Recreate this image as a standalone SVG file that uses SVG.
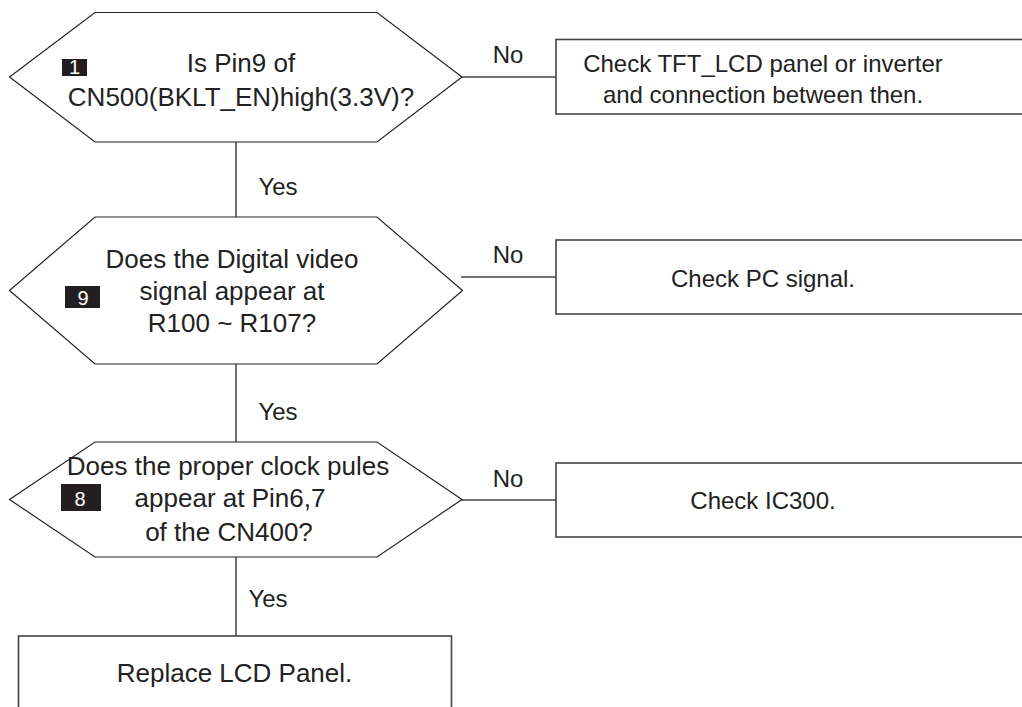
<svg xmlns="http://www.w3.org/2000/svg" width="1022" height="707" viewBox="0 0 1022 707">
<style>
.hex{fill:#fff;stroke:#222;stroke-width:1.2}
.box{fill:#fff;stroke:#444;stroke-width:1.6}
.ln{stroke:#444;stroke-width:1.5;fill:none}
.t{font-family:"Liberation Sans",Arial,sans-serif;fill:#222;text-anchor:middle}
.q{font-size:26px}
.b{font-size:24px}
.lbl{font-size:24px}
.badge{fill:#231f20}
.bn{font-family:"Liberation Sans",Arial,sans-serif;fill:#fff;font-size:20px;text-anchor:middle}
</style>
<rect width="1022" height="707" fill="#fff"/>
<g id="connectors">
<line class="ln" x1="236" y1="142" x2="236" y2="217"/>
<line class="ln" x1="236" y1="364" x2="236" y2="442"/>
<line class="ln" x1="236" y1="557" x2="236" y2="636"/>
<line class="ln" x1="461" y1="77" x2="556" y2="77"/>
<line class="ln" x1="461" y1="277" x2="556" y2="277"/>
<line class="ln" x1="461" y1="500" x2="556" y2="500"/>
<text class="t lbl" x="508" y="63">No</text>
<text class="t lbl" x="508" y="263">No</text>
<text class="t lbl" x="508" y="487">No</text>
<text class="t lbl" x="278" y="195">Yes</text>
<text class="t lbl" x="278" y="420">Yes</text>
<text class="t lbl" x="268" y="607">Yes</text>
</g>
<g id="q1">
<polygon class="hex" points="95,12.5 377,12.5 462,77 377,142 95,142 9.5,77"/>
<rect class="badge" x="62" y="59" width="25" height="17"/>
<text class="bn" x="74.5" y="74">1</text>
<text class="t q" x="241" y="72">Is Pin9 of</text>
<text class="t q" x="241" y="106">CN500(BKLT_EN)high(3.3V)?</text>
</g>
<g id="a1">
<rect class="box" x="556" y="39.5" width="480" height="74.5"/>
<text class="t b" x="763" y="72">Check TFT_LCD panel or inverter</text>
<text class="t b" x="763" y="103">and connection between then.</text>
</g>
<g id="q2">
<polygon class="hex" points="95,217 377,217 462.5,290.5 377,364 95,364 9.5,290.5"/>
<rect class="badge" x="65" y="286" width="35" height="22"/>
<text class="bn" x="83" y="305">9</text>
<text class="t q" x="232" y="268">Does the Digital video</text>
<text class="t q" x="232" y="300">signal appear at</text>
<text class="t q" x="232" y="332">R100 ~ R107?</text>
</g>
<g id="a2">
<rect class="box" x="556" y="240" width="480" height="74"/>
<text class="t b" x="763" y="287">Check PC signal.</text>
</g>
<g id="q3">
<polygon class="hex" points="95,442 377,442 462,499.5 377,557 95,557 9.5,499.5"/>
<rect class="badge" x="61" y="484" width="40" height="27"/>
<text class="bn" x="80" y="506">8</text>
<text class="t q" x="228" y="475">Does the proper clock pules</text>
<text class="t q" x="230" y="507">appear at Pin6,7</text>
<text class="t q" x="229" y="541">of the CN400?</text>
</g>
<g id="a3">
<rect class="box" x="556" y="463" width="480" height="74"/>
<text class="t b" x="763" y="509">Check IC300.</text>
</g>
<g id="end">
<rect class="box" x="18.5" y="636" width="433" height="90"/>
<text class="t q" x="234.5" y="682">Replace LCD Panel.</text>
</g>
</svg>
